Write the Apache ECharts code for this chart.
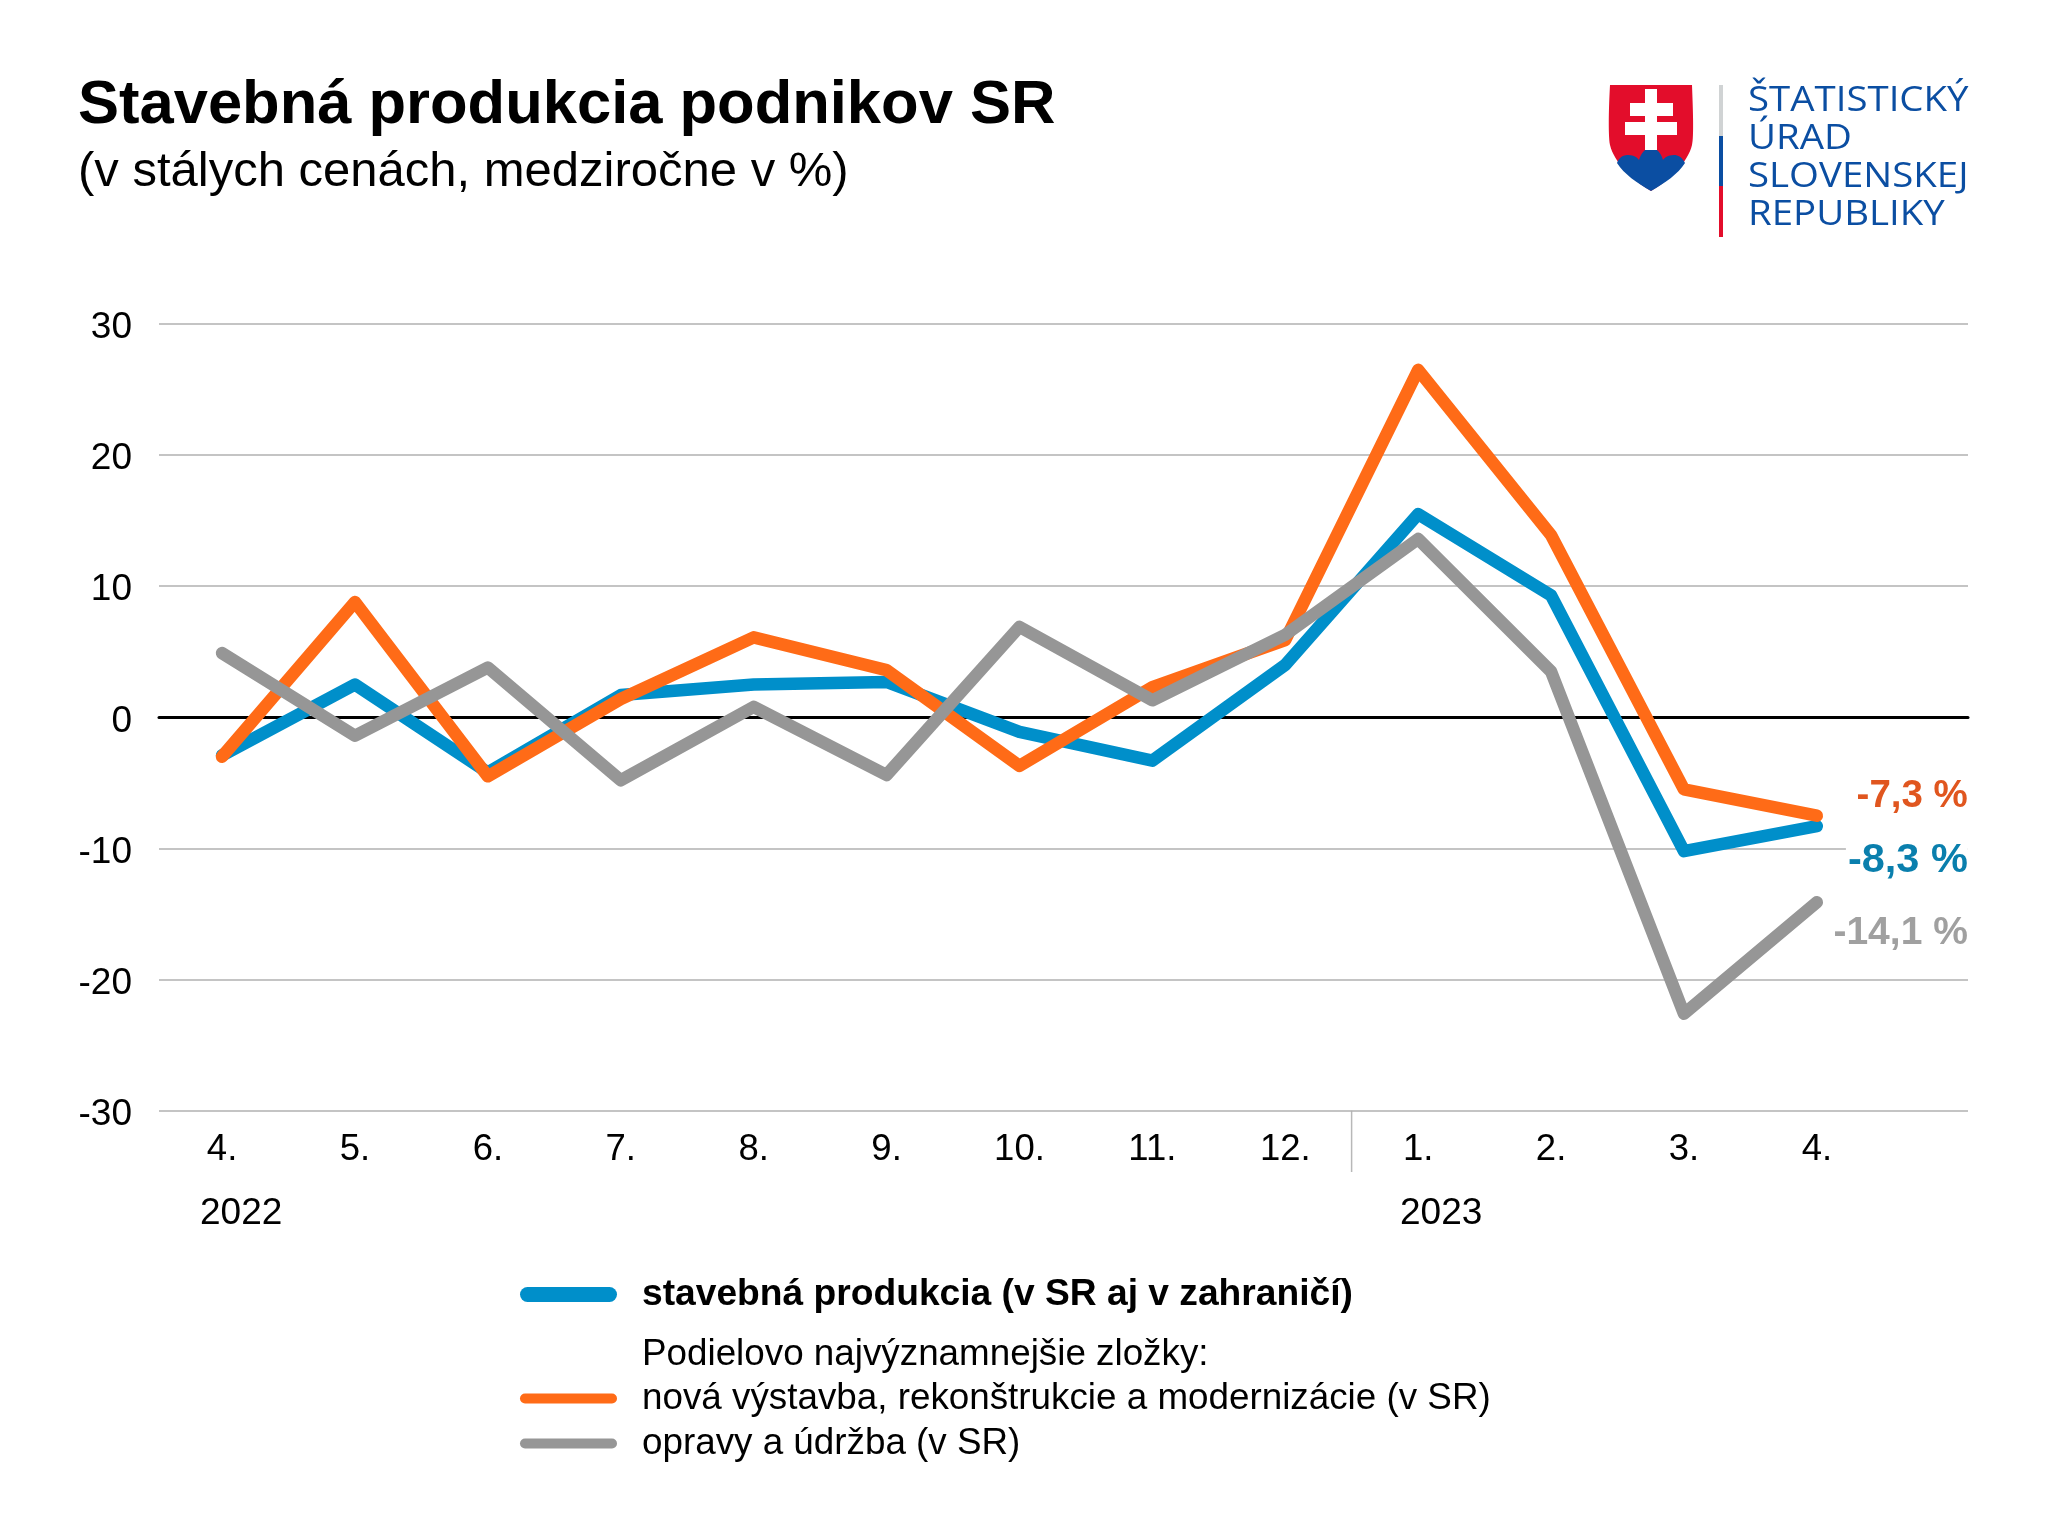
<!DOCTYPE html>
<html><head><meta charset="utf-8">
<style>html,body{margin:0;padding:0;background:#fff}#c{width:2048px;height:1536px}</style>
<script src="https://cdn.jsdelivr.net/npm/echarts@6/dist/echarts.min.js"></script>
</head><body><div id="c"></div>
<script>
const months = ['4.','5.','6.','7.','8.','9.','10.','11.','12.','1.','2.','3.','4.'];
const yTicks = [-30,-20,-10,0,10,20,30];
const years = ['2022','2023'];
const nameBlue = 'stavebná produkcia (v SR aj v zahraničí)';
const nameOrange = 'nová výstavba, rekonštrukcie a modernizácie (v SR)';
const nameGray = 'opravy a údržba (v SR)';
const legendNote = 'Podielovo najvýznamnejšie zložky:';
const blue = [-2.9,2.5,-4.2,1.7,2.5,2.7,-1.1,-3.3,4.0,15.5,9.3,-10.2,-8.3];
const orange = [-3.0,8.8,-4.5,1.4,6.1,3.6,-3.7,2.3,5.9,26.5,13.9,-5.5,-7.5];
const gray = [4.9,-1.4,3.8,-4.8,0.8,-4.4,6.9,1.3,6.3,13.6,3.5,-22.6,-14.1];
const endLabels = {blue:'-8,3 %', orange:'-7,3 %', gray:'-14,1 %'};
const FONT = '"Liberation Sans", Arial, sans-serif';
const LOGO = '#0b4ea2', RED = '#e30d2b';
const top_ = 324, bottom_ = 1110.7;
echarts.graphic.registerShape('logoShield', echarts.graphic.extendPath('M1610 85 L1692 85 C1693 110 1694 137 1692 145 C1688 162 1670 180 1651 191 C1632 180 1614 162 1610 145 C1608 133 1609 103 1610 85 Z', {}));
echarts.graphic.registerShape('logoHills', echarts.graphic.extendPath('M1617 163 C1620 155 1626 155 1628 155 C1634 155 1638 158 1639 160 C1641 153 1645 148 1651 148 C1657 148 1661 153 1663 160 C1664 158 1668 155 1674 155 C1678 155 1682 157 1685 163 C1678 174 1665 183 1651 191 C1637 183 1624 174 1617 163 Z', {}));
const chart = echarts.init(document.getElementById('c'), null, {renderer:'canvas'});

function line(name, data, color, text, labelColor, dy, size){
  return {
    name, type:'line', data, xAxisIndex:0, yAxisIndex:0, showSymbol:false, symbol:'none', smooth:false,
    lineStyle:{color, width:12.5, cap:'round', join:'round'}, itemStyle:{color},
    emphasis:{disabled:true}, animation:false,
    endLabel:{show:true, formatter:()=>text, color:labelColor, fontFamily:FONT, fontWeight:'bold', fontSize:size,
      align:'right', verticalAlign:'middle', distance:0, offset:[151,dy], backgroundColor:'#fff', padding:[2,0,2,2]}
  };
}
const legendBase = {orient:'vertical', left:520, padding:0, itemWidth:97, itemHeight:10, selectedMode:false,
  icon:'path://M5 0H92A5 5 0 0 1 92 10H5A5 5 0 0 1 5 0Z'};
const logoText = (text, y) => ({type:'text', x:1748, y, scaleX:1.13, style:{text, font:'34px "Open Sans"', fill:LOGO}});
chart.setOption({
  animation:false,
  backgroundColor:'#fff',
  title:[
    {text:'Stavebná produkcia podnikov SR', left:78, top:75, padding:0, textStyle:{fontFamily:FONT,fontWeight:'bold',fontSize:61.5,color:'#000'}},
    {text:'(v stálych cenách, medziročne v %)', left:78, top:148, padding:0, textStyle:{fontFamily:FONT,fontWeight:'normal',fontSize:49,color:'#000'}}
  ],
  grid:[
    {left:155.6, width:1727.7, top:top_, height:bottom_-top_, containLabel:false},
    {left:159, width:1809, top:top_, height:bottom_-top_, containLabel:false},
    {left:159, width:1809, top:top_+4, height:bottom_-top_, containLabel:false}
  ],
  xAxis:[
    {type:'category', gridIndex:0, data:months, boundaryGap:true,
      axisLine:{show:false, onZero:false},
      axisTick:{show:false},
      axisLabel:{interval:0, margin:21, fontFamily:FONT, fontSize:36.5, color:'#000'}, splitLine:{show:false}},
    {type:'value', gridIndex:1, min:0, max:1, position:'bottom',
      axisLine:{show:true, onZero:true, lineStyle:{color:'#000',width:3}},
      axisTick:{show:false}, axisLabel:{show:false}, splitLine:{show:false}},
    {type:'value', gridIndex:2, min:0, max:1, show:false}
  ],
  yAxis:[
    {type:'value', gridIndex:0, min:-30, max:30, interval:10, show:false},
    {type:'value', gridIndex:1, min:yTicks[0], max:yTicks[yTicks.length-1], interval:10,
      axisLine:{show:false}, axisTick:{show:false}, axisLabel:{show:false},
      splitLine:{show:true, lineStyle:{color:'#b0b0b0',width:1.5}}},
    {type:'value', gridIndex:2, min:yTicks[0], max:yTicks[yTicks.length-1], interval:10,
      axisLine:{show:false}, axisTick:{show:false}, splitLine:{show:false},
      axisLabel:{margin:27, fontFamily:FONT, fontSize:37, color:'#000'}}
  ],
  legend:[
    Object.assign({}, legendBase, {top:1276, itemHeight:15, data:[nameBlue],
      icon:'path://M7.5 0H89.5A7.5 7.5 0 0 1 89.5 15H7.5A7.5 7.5 0 0 1 7.5 0Z',
      textStyle:{fontFamily:FONT,fontWeight:'bold',fontSize:37.2,color:'#000',padding:[0,0,0,20]}}),
    Object.assign({}, legendBase, {top:1380, itemGap:8, data:[nameOrange,nameGray],
      textStyle:{fontFamily:FONT,fontSize:36.8,color:'#000',padding:[0,0,0,20]}})
  ],
  series:[
    line(nameBlue, blue, '#008fca', endLabels.blue, '#0a7fad', 34, 41.5),
    line(nameOrange, orange, '#ff6b17', endLabels.orange, '#e0561f', -19, 38.5),
    line(nameGray, gray, '#969696', endLabels.gray, '#a0a0a0', 31, 39)
  ],
  graphic:[
    {type:'text', x:642, y:1336, style:{text:legendNote, font:'36.8px '+FONT, fill:'#000'}},
    {type:'text', x:200, y:1195, style:{text:years[0], font:'37px '+FONT, fill:'#000'}},
    {type:'text', x:1400, y:1195, style:{text:years[1], font:'37px '+FONT, fill:'#000'}},
    {type:'line', shape:{x1:1351.6,y1:1110.7,x2:1351.6,y2:1172}, style:{stroke:'#b8b8b8',lineWidth:1.5}},
    {type:'logoShield', style:{fill:RED}},
    {type:'logoHills', style:{fill:LOGO}},
    {type:'rect', shape:{x:1645,y:89,width:12,height:61}, style:{fill:'#fff'}},
    {type:'rect', shape:{x:1630,y:103,width:43,height:13}, style:{fill:'#fff'}},
    {type:'rect', shape:{x:1625,y:122,width:52,height:13}, style:{fill:'#fff'}},
    {type:'rect', shape:{x:1719,y:85,width:4,height:51}, style:{fill:'#d0d3d4'}},
    {type:'rect', shape:{x:1719,y:136,width:4,height:50}, style:{fill:LOGO}},
    {type:'rect', shape:{x:1719,y:186,width:4,height:51}, style:{fill:RED}},
    logoText('ŠTATISTICKÝ', 84), logoText('ÚRAD', 122), logoText('SLOVENSKEJ', 160), logoText('REPUBLIKY', 198)
  ]
});
</script></body></html>
